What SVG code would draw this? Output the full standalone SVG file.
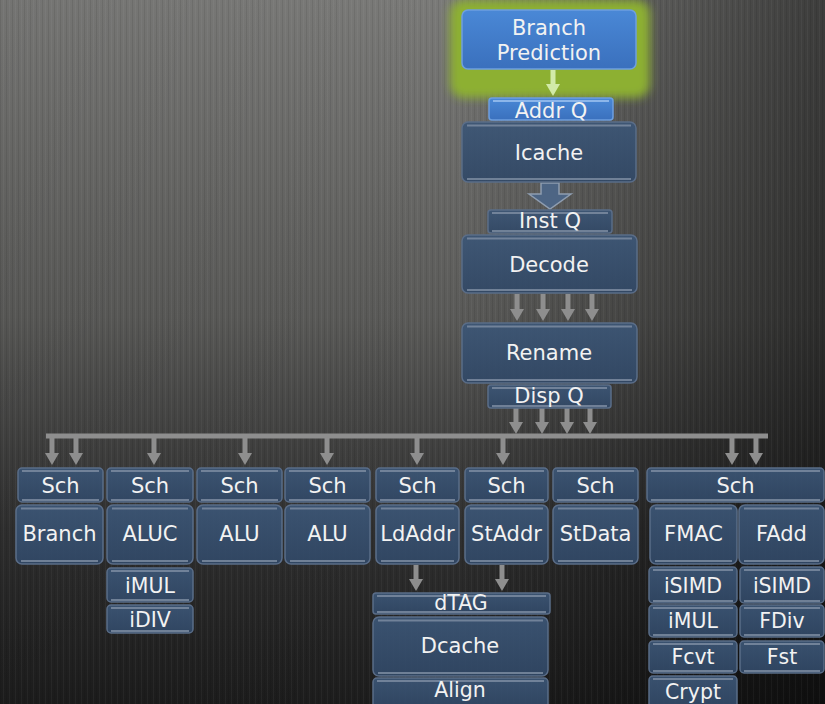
<svg xmlns="http://www.w3.org/2000/svg" width="825" height="704" viewBox="0 0 825 704">
<defs>
<linearGradient id="bgv" x1="0" y1="0" x2="0" y2="1">
<stop offset="0" stop-color="#7a7a78"/>
<stop offset="0.45" stop-color="#5a5a58"/>
<stop offset="0.75" stop-color="#303030"/>
<stop offset="1" stop-color="#1c1c1c"/>
</linearGradient>
<linearGradient id="bgh" x1="0" y1="0" x2="1" y2="0">
<stop offset="0" stop-color="#000" stop-opacity="0.05"/>
<stop offset="0.55" stop-color="#000" stop-opacity="0"/>
<stop offset="1" stop-color="#000" stop-opacity="0.5"/>
</linearGradient>
<pattern id="tex" width="6" height="4" patternUnits="userSpaceOnUse">
<rect x="0" y="0" width="1" height="4" fill="#000" fill-opacity="0.08"/>
<rect x="3" y="0" width="1" height="4" fill="#fff" fill-opacity="0.04"/>
</pattern>
<linearGradient id="blue" x1="0" y1="0" x2="0" y2="1">
<stop offset="0" stop-color="#4a88d6"/>
<stop offset="1" stop-color="#3a70bd"/>
</linearGradient>
<linearGradient id="slate" x1="0" y1="0" x2="0" y2="1">
<stop offset="0" stop-color="#3c5676"/>
<stop offset="1" stop-color="#314866"/>
</linearGradient>
<filter id="glow" x="-30%" y="-40%" width="160%" height="180%">
<feGaussianBlur stdDeviation="5"/>
</filter>
<marker id="ah" viewBox="0 0 12 14" refX="6" refY="7" markerWidth="12" markerHeight="14" markerUnits="userSpaceOnUse" orient="auto">
<path d="M0,0 L12,7 L0,14 z" fill="#8e8e8e"/>
</marker>
<marker id="ahg" viewBox="0 0 12 14" refX="6" refY="7" markerWidth="12" markerHeight="14" markerUnits="userSpaceOnUse" orient="auto">
<path d="M0,0 L12,7 L0,14 z" fill="#d2eaa8"/>
</marker>
</defs>
<style>
.b{fill:url(#slate);fill-opacity:0.92;stroke:#5a6d88;stroke-width:1.5}
.bb{fill:url(#blue);stroke:#6d9fdf;stroke-width:1.5}
.hl{stroke:#7f8fa4;stroke-width:2;fill:none;stroke-opacity:0.8}
.hlb{stroke:#8cb6ea;stroke-width:2;fill:none}
.t{font-family:"DejaVu Sans","Liberation Sans",sans-serif;font-size:21px;fill:#f2f2f2;text-anchor:middle}
.s{font-size:20.5px}
.c{stroke:#8e8e8e;stroke-width:5;fill:none}
</style>
<rect x="0" y="0" width="825" height="704" fill="url(#bgv)"/>
<rect x="0" y="0" width="825" height="704" fill="url(#bgh)"/>
<rect x="0" y="0" width="825" height="704" fill="url(#tex)"/>
<rect x="450" y="0" width="200" height="98" rx="14" fill="#8db032" filter="url(#glow)"/>

<g id="connectors">
<line x1="553" y1="70" x2="553" y2="90" stroke="#d2eaa8" stroke-width="5" marker-end="url(#ahg)"/>
<polygon points="541,183 559,183 559,194 571,194 550,209 529,194 541,194" fill="#4d6584" stroke="#8e9db0" stroke-width="1.5"/>
<line class="c" x1="517" y1="294" x2="517" y2="315" marker-end="url(#ah)"/>
<line class="c" x1="543" y1="294" x2="543" y2="315" marker-end="url(#ah)"/>
<line class="c" x1="568" y1="294" x2="568" y2="315" marker-end="url(#ah)"/>
<line class="c" x1="592" y1="294" x2="592" y2="315" marker-end="url(#ah)"/>
<line class="c" x1="516" y1="408" x2="516" y2="428" marker-end="url(#ah)"/>
<line class="c" x1="542" y1="408" x2="542" y2="428" marker-end="url(#ah)"/>
<line class="c" x1="567" y1="408" x2="567" y2="428" marker-end="url(#ah)"/>
<line class="c" x1="590" y1="408" x2="590" y2="428" marker-end="url(#ah)"/>
<line class="c" x1="46" y1="436" x2="768" y2="436"/>
<line class="c" x1="52" y1="436" x2="52" y2="459" marker-end="url(#ah)"/>
<line class="c" x1="76" y1="436" x2="76" y2="459" marker-end="url(#ah)"/>
<line class="c" x1="154" y1="436" x2="154" y2="459" marker-end="url(#ah)"/>
<line class="c" x1="245" y1="436" x2="245" y2="459" marker-end="url(#ah)"/>
<line class="c" x1="327" y1="436" x2="327" y2="459" marker-end="url(#ah)"/>
<line class="c" x1="417" y1="436" x2="417" y2="459" marker-end="url(#ah)"/>
<line class="c" x1="503" y1="436" x2="503" y2="459" marker-end="url(#ah)"/>
<line class="c" x1="732" y1="436" x2="732" y2="459" marker-end="url(#ah)"/>
<line class="c" x1="756" y1="436" x2="756" y2="459" marker-end="url(#ah)"/>
<line class="c" x1="416" y1="565" x2="416" y2="585" marker-end="url(#ah)"/>
<line class="c" x1="502" y1="565" x2="502" y2="585" marker-end="url(#ah)"/>
</g>

<g id="branch-prediction"><rect class="bb" x="462" y="10" width="174" height="59" rx="6"/><text class="t" x="549" y="35">Branch</text><text class="t" x="549" y="60">Prediction</text></g>
<g id="addr-q"><rect class="bb" x="489" y="98" width="124" height="22" rx="3"/><path class="hlb" d="M493 101H609"/><text class="t" x="551" y="118">Addr Q</text></g>
<g id="icache"><rect class="b" x="462" y="122" width="174" height="60" rx="6"/><path class="hl" d="M467 125.5H631M467 179H631"/><text class="t" x="549" y="160">Icache</text></g>
<g id="inst-q"><rect class="b" x="488" y="210" width="124" height="23" rx="3"/><path class="hl" d="M492 213H608M492 231H608"/><text class="t" x="550" y="228">Inst Q</text></g>
<g id="decode"><rect class="b" x="462" y="235" width="175" height="58" rx="6"/><path class="hl" d="M467 238.5H632M467 290H632"/><text class="t" x="549" y="272">Decode</text></g>
<g id="rename"><rect class="b" x="462" y="323" width="175" height="60" rx="6"/><path class="hl" d="M467 326.5H632M467 380H632"/><text class="t" x="549" y="360">Rename</text></g>
<g id="disp-q"><rect class="b" x="488" y="385" width="123" height="23" rx="3"/><path class="hl" d="M492 388H607M492 406H607"/><text class="t" x="549" y="403">Disp Q</text></g>

<g id="sch-branch"><rect class="b" x="18" y="468" width="85" height="34" rx="4"/><path class="hl" d="M22 471H99M22 500H99"/><text class="t" x="60.5" y="493">Sch</text></g>
<g id="sch-aluc"><rect class="b" x="107" y="468" width="86" height="34" rx="4"/><path class="hl" d="M111 471H189M111 500H189"/><text class="t" x="150" y="493">Sch</text></g>
<g id="sch-alu1"><rect class="b" x="197" y="468" width="85" height="34" rx="4"/><path class="hl" d="M201 471H278M201 500H278"/><text class="t" x="239.5" y="493">Sch</text></g>
<g id="sch-alu2"><rect class="b" x="285" y="468" width="85" height="34" rx="4"/><path class="hl" d="M289 471H366M289 500H366"/><text class="t" x="327.5" y="493">Sch</text></g>
<g id="sch-ldaddr"><rect class="b" x="376" y="468" width="83" height="34" rx="4"/><path class="hl" d="M380 471H455M380 500H455"/><text class="t" x="417.5" y="493">Sch</text></g>
<g id="sch-staddr"><rect class="b" x="465" y="468" width="83" height="34" rx="4"/><path class="hl" d="M469 471H544M469 500H544"/><text class="t" x="506.5" y="493">Sch</text></g>
<g id="sch-stdata"><rect class="b" x="553" y="468" width="85" height="34" rx="4"/><path class="hl" d="M557 471H634M557 500H634"/><text class="t" x="595.5" y="493">Sch</text></g>
<g id="sch-fp"><rect class="b" x="647" y="468" width="177" height="34" rx="4"/><path class="hl" d="M651 471H820M651 500H820"/><text class="t" x="735.5" y="493">Sch</text></g>

<g id="branch"><rect class="b" x="16" y="505" width="87" height="59" rx="6"/><path class="hl" d="M21 508.5H98M21 561H98"/><text class="t" x="59.5" y="541">Branch</text></g>
<g id="aluc"><rect class="b" x="107" y="505" width="86" height="59" rx="6"/><path class="hl" d="M112 508.5H188M112 561H188"/><text class="t" x="150" y="541">ALUC</text></g>
<g id="alu1"><rect class="b" x="197" y="505" width="85" height="59" rx="6"/><path class="hl" d="M202 508.5H277M202 561H277"/><text class="t" x="239.5" y="541">ALU</text></g>
<g id="alu2"><rect class="b" x="285" y="505" width="85" height="59" rx="6"/><path class="hl" d="M290 508.5H365M290 561H365"/><text class="t" x="327.5" y="541">ALU</text></g>
<g id="ldaddr"><rect class="b" x="376" y="505" width="83" height="59" rx="6"/><path class="hl" d="M381 508.5H454M381 561H454"/><text class="t" x="417.5" y="541">LdAddr</text></g>
<g id="staddr"><rect class="b" x="465" y="505" width="83" height="59" rx="6"/><path class="hl" d="M470 508.5H543M470 561H543"/><text class="t" x="506.5" y="541">StAddr</text></g>
<g id="stdata"><rect class="b" x="553" y="505" width="85" height="59" rx="6"/><path class="hl" d="M558 508.5H633M558 561H633"/><text class="t" x="595.5" y="541">StData</text></g>
<g id="fmac"><rect class="b" x="650" y="505" width="87" height="59" rx="6"/><path class="hl" d="M655 508.5H732M655 561H732"/><text class="t" x="693.5" y="541">FMAC</text></g>
<g id="fadd"><rect class="b" x="739" y="505" width="85" height="59" rx="6"/><path class="hl" d="M744 508.5H819M744 561H819"/><text class="t" x="781.5" y="541">FAdd</text></g>

<g id="imul-int"><rect class="b" x="107" y="568" width="86" height="34" rx="4"/><path class="hl" d="M111 571H189M111 600H189"/><text class="t s" x="150" y="593">iMUL</text></g>
<g id="idiv"><rect class="b" x="107" y="605" width="86" height="28" rx="4"/><path class="hl" d="M111 608H189M111 631H189"/><text class="t s" x="150" y="627">iDIV</text></g>

<g id="dtag"><rect class="b" x="373" y="593" width="177" height="21" rx="3"/><path class="hl" d="M377 596H546M377 612H546"/><text class="t s" x="461" y="610">dTAG</text></g>
<g id="dcache"><rect class="b" x="373" y="617" width="175" height="59" rx="6"/><path class="hl" d="M378 620.5H543M378 673H543"/><text class="t" x="460" y="653">Dcache</text></g>
<g id="align"><rect class="b" x="373" y="678" width="175" height="30" rx="4"/><path class="hl" d="M377 681H544"/><text class="t s" x="460" y="697">Align</text></g>

<g id="isimd-a"><rect class="b" x="649" y="567" width="88" height="36" rx="4"/><path class="hl" d="M653 570H733M653 601H733"/><text class="t s" x="693" y="593">iSIMD</text></g>
<g id="isimd-b"><rect class="b" x="740" y="567" width="84" height="36" rx="4"/><path class="hl" d="M744 570H820M744 601H820"/><text class="t s" x="782" y="593">iSIMD</text></g>
<g id="imul-fp"><rect class="b" x="649" y="605" width="88" height="32" rx="4"/><path class="hl" d="M653 608H733M653 635H733"/><text class="t s" x="693" y="628">iMUL</text></g>
<g id="fdiv"><rect class="b" x="740" y="605" width="84" height="32" rx="4"/><path class="hl" d="M744 608H820M744 635H820"/><text class="t s" x="782" y="628">FDiv</text></g>
<g id="fcvt"><rect class="b" x="649" y="641" width="88" height="32" rx="4"/><path class="hl" d="M653 644H733M653 671H733"/><text class="t s" x="693" y="664">Fcvt</text></g>
<g id="fst"><rect class="b" x="740" y="641" width="84" height="32" rx="4"/><path class="hl" d="M744 644H820M744 671H820"/><text class="t s" x="782" y="664">Fst</text></g>
<g id="crypt"><rect class="b" x="649" y="676" width="88" height="34" rx="4"/><path class="hl" d="M653 679H733"/><text class="t s" x="693" y="699">Crypt</text></g>
</svg>
